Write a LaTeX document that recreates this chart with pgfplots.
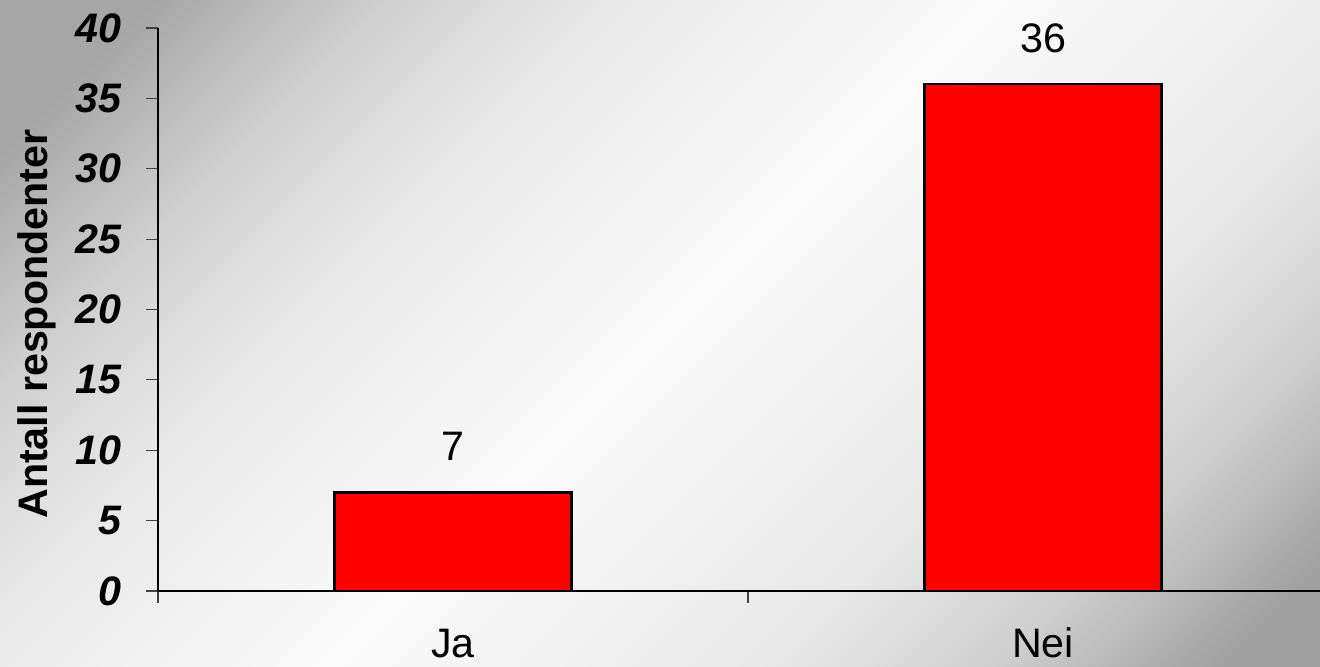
\documentclass[border=0pt]{standalone}
\usepackage{fontspec}
\setmainfont{Liberation Sans}
\usepackage{pgfplots}
\pgfplotsset{compat=1.18}

\definecolor{bgA}{RGB}{166,166,166}
\definecolor{bgB}{RGB}{160,160,160}
\definecolor{bgM}{RGB}{250,250,250}
\definecolor{bgC}{RGB}{232,232,232}
\definecolor{bgD}{RGB}{206,206,206}
% vertical shading: 0bp = bottom (ends up bottom-right after rotation)
\pgfdeclareverticalshading{bg}{100bp}{%
  color(0bp)=(bgB); color(18bp)=(bgB); color(26bp)=(bgD);
  color(34bp)=(bgC); color(50bp)=(bgM); color(64bp)=(bgC);
  color(72bp)=(bgD); color(80bp)=(bgA); color(100bp)=(bgA)}

\newcommand{\bigfnt}{\fontsize{20.6}{24}\selectfont}

\begin{document}
\begin{tikzpicture}
  \useasboundingbox (0,0) rectangle (660pt,333.5pt);
  \shade[shading=bg, shading angle=45] (0,0) rectangle (660pt,333.5pt);

  \begin{axis}[
      at={(79pt,38pt)}, anchor=south west,
      scale only axis,
      width=581pt, height=281.5pt,
      xmin=-0.5, xmax=1.4695,
      ymin=0, ymax=40,
      axis x line=bottom, axis y line=left,
      axis line style={-, black, line width=0.6pt},
      ybar, bar width=118.5pt, bar shift=0pt,
      ytick={0,5,...,40},
      yticklabel style={font=\bigfnt\bfseries\itshape, xshift=-9pt},
      /pgf/number format/assume math mode=true,
      xtick={-0.5,0.5}, xticklabels={},
      extra x ticks={0,1},
      extra x tick labels={Ja,Nei},
      extra x tick style={major tick length=0pt,
        xticklabel style={font=\bigfnt, anchor=base, yshift=-33.5pt}},
      tick align=outside,
      major tick length=6pt,
      tick style={black!75, line width=0.6pt},
      ylabel={Antall respondenter},
      ylabel style={font=\bigfnt\bfseries, at={(axis description cs:-0.104,0.474)}, anchor=center},
      nodes near coords,
      every node near coord/.append style={font=\bigfnt, anchor=base, yshift=16pt, black},
    ]
    \addplot[fill=red, draw=black, line width=1.2pt] coordinates {(0,7) (1,36)};
  \end{axis}
\end{tikzpicture}
\end{document}
